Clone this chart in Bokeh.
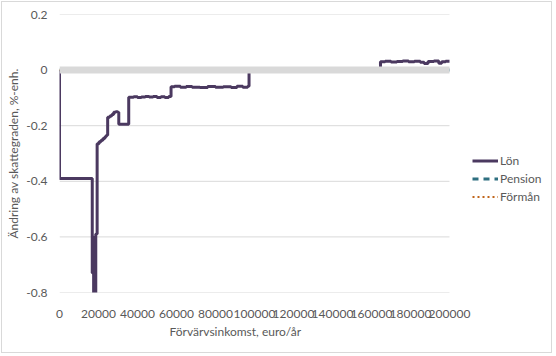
from bokeh.plotting import figure
from bokeh.models import Range1d, FixedTicker, Legend, LegendItem, Title
from bokeh.embed import file_html
from bokeh.resources import INLINE

# ---- data ----
inkomst = [0, 0, 16800, 17200, 17500, 17900, 18200, 18600, 19300, 20300,
           21300, 22300, 23300, 24000, 24700, 25800, 26800, 27800, 28800, 29800,
           30400, 35500, 38000, 40000, 42000, 44000, 46000, 48000, 50000, 52000,
           54000, 56000, 57200, 59000, 62000, 65000, 68000, 72000, 76000, 80000,
           84000, 88000, 91000, 94000, 96500, 97200, 164600, 167000, 170000, 173000,
           176000, 179000, 182000, 185000, 187000, 189000, 192000, 194500, 196000, 198000,
           200000]
lon = [0, -0.39, -0.73, -0.60, -0.86, -0.62, -0.88, -0.59, -0.265, -0.258,
       -0.252, -0.246, -0.240, -0.234, -0.170, -0.165, -0.160, -0.152, -0.150, -0.152,
       -0.195, -0.098, -0.096, -0.099, -0.097, -0.095, -0.097, -0.095, -0.099, -0.096,
       -0.099, -0.095, -0.060, -0.058, -0.062, -0.059, -0.062, -0.063, -0.059, -0.062,
       -0.060, -0.063, -0.058, -0.062, -0.058, 0.0, 0.030, 0.032, 0.029, 0.031,
       0.033, 0.030, 0.032, 0.028, 0.024, 0.031, 0.033, 0.025, 0.030, 0.032,
       0.032]
pension_x = [0, 200000]
pension = [0, 0]
forman_x = [0, 200000]
forman = [0, 0]

x_ticks = [0, 20000, 40000, 60000, 80000, 100000, 120000, 140000, 160000, 180000, 200000]
y_ticks = [0.2, 0.0, -0.2, -0.4, -0.6, -0.8]
y_labels = ["0.2", "0", "-0.2", "-0.4", "-0.6", "-0.8"]

TXT = "#595959"
FONT = "Lato"

# layout: plot area 390 px wide for 0..200000, frame extended to the right for the legend
X_MIN, X_MAX = x_ticks[0], x_ticks[-1]
AREA_W = 390
FRAME_W = 494
x_end = X_MIN + (X_MAX - X_MIN) * FRAME_W / AREA_W

p = figure(width=551, height=352, x_range=Range1d(X_MIN, x_end), y_range=Range1d(-0.8, 0.2),
           output_backend="svg", toolbar_location=None,
           min_border_left=57, min_border_right=0, min_border_top=12, min_border_bottom=62)
p.styles = {"margin-left": "1px", "margin-top": "1px", "border": "1px solid #d9d9d9"}
p.outline_line_color = None
p.background_fill_color = "white"
p.xgrid.visible = False
p.ygrid.visible = False

# horizontal gridlines across the plot area
grid_y = [t for t in y_ticks if t != 0]
p.segment(x0=[X_MIN] * len(grid_y), x1=[X_MAX] * len(grid_y), y0=grid_y, y1=grid_y,
          line_color="#d9d9d9", line_width=1)

r_lon = p.step(inkomst, lon, mode="after", line_color="#4B3960", line_width=3)
r_pen = p.line(pension_x, pension, line_color="#2E6F80", line_width=3, line_dash="6 5")
r_for = p.line(forman_x, forman, line_color="#C0651A", line_width=2, line_dash="2 3")

# zero axis band (drawn above the series, as in the original)
p.segment(x0=[X_MIN], x1=[X_MAX], y0=[0], y1=[0], line_color="#d9d9d9", line_width=7)

for ax in (p.xaxis[0], p.yaxis[0]):
    ax.axis_line_color = None
    ax.major_tick_line_color = None
    ax.minor_tick_line_color = None
    ax.major_tick_in = 0
    ax.major_tick_out = 0
    ax.major_label_text_font = FONT
    ax.major_label_text_font_size = "12px"
    ax.major_label_text_color = TXT

p.xaxis.ticker = FixedTicker(ticks=x_ticks)
p.xaxis.major_label_overrides = {t: str(t) for t in x_ticks}
p.xaxis.major_label_standoff = 17

p.yaxis.ticker = FixedTicker(ticks=y_ticks)
p.yaxis.major_label_overrides = {t: l for t, l in zip(y_ticks, y_labels)}
p.yaxis.major_label_standoff = 12
p.yaxis.axis_label = "Ändring av skattegraden, %-enh."
p.yaxis.axis_label_text_font = FONT
p.yaxis.axis_label_text_font_size = "12px"
p.yaxis.axis_label_text_font_style = "normal"
p.yaxis.axis_label_text_color = TXT
p.yaxis.axis_label_standoff = 2

xt = Title(text="Förvärvsinkomst, euro/år", align="left", offset=110, standoff=2,
           text_font=FONT, text_font_size="12px", text_font_style="normal", text_color=TXT)
p.add_layout(xt, "below")

legend = Legend(items=[LegendItem(label="Lön", renderers=[r_lon]),
                       LegendItem(label="Pension", renderers=[r_pen]),
                       LegendItem(label="Förmån", renderers=[r_for])],
                location=(413, 88))
legend.glyph_width = 26
legend.glyph_height = 15
legend.label_height = 15
legend.label_standoff = 2
legend.spacing = 3
legend.padding = 0
legend.margin = 0
legend.border_line_alpha = 0
legend.background_fill_alpha = 0
legend.label_text_font = FONT
legend.label_text_font_size = "12px"
legend.label_text_color = TXT
p.add_layout(legend, "center")

open("out.html", "w").write(file_html(p, INLINE))
